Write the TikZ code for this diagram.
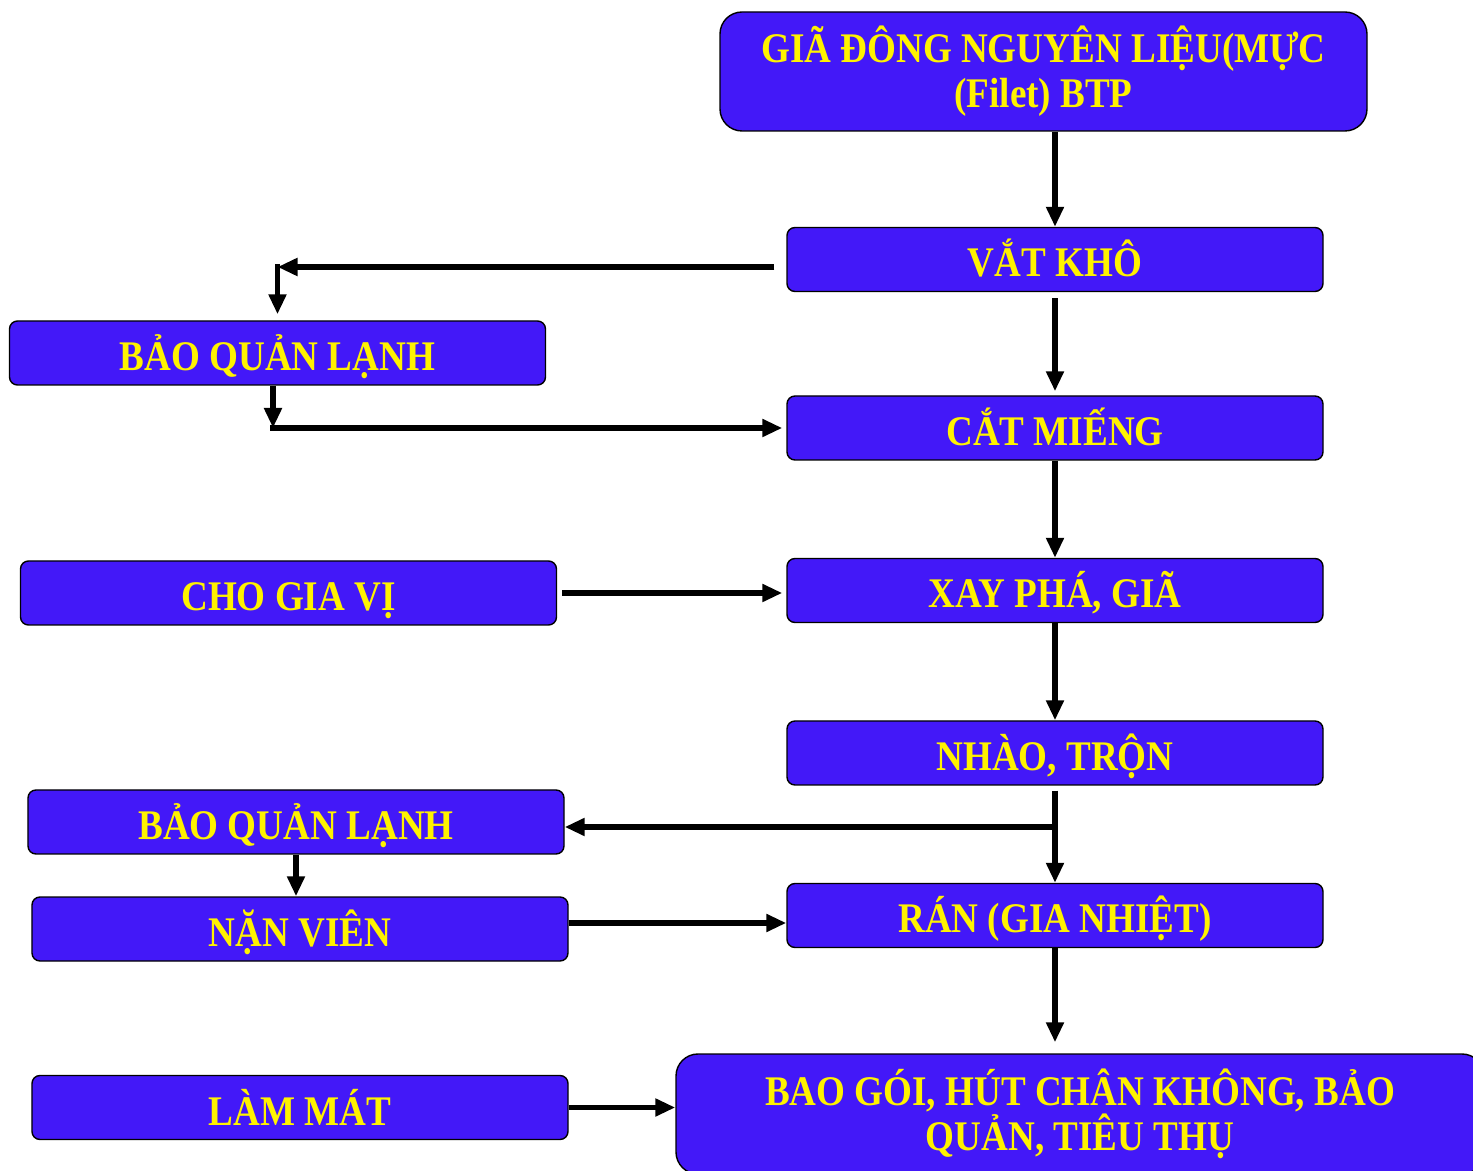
\documentclass[tikz,border=0pt]{standalone}
\usepackage{fontspec}
\setmainfont{Liberation Serif}[FakeStretch=0.88]
\usetikzlibrary{arrows.meta}
\definecolor{boxblue}{RGB}{67,24,248}
\tikzstyle{box} = [rectangle, rounded corners=0.16cm, minimum width=10.72cm, minimum height=1.28cm, text centered, draw=black, line width=0.8pt, fill=boxblue, text=yellow, font=\fontsize{24}{25.5}\selectfont\bfseries]
\tikzstyle{process} = [box, inner sep=0.1cm, text height=0.76cm, text depth=0.06cm]
\tikzstyle{bigbox} = [box, rounded corners=0.44cm, align=center]
\tikzstyle{arrow} = [line width=3.2pt, -{Triangle[length=0.4cm,width=0.34cm]}]

\begin{document}
\begin{tikzpicture}[node distance=3.25cm]
		\useasboundingbox (0,0) rectangle (29.46,-23.42);
		\node (top) [bigbox, minimum width=12.94cm, minimum height=2.38cm] at (20.87,-1.43) {GIÃ ĐÔNG NGUYÊN LIỆU(MỰC\\(Filet) BTP};
		\node (vat) [process, below of = top, xshift = 0.23cm, yshift = -0.51cm] {VẮT KHÔ};
		\node (cat) [process, below of = vat, yshift = -0.12cm] {CẮT MIẾNG};
		\node (xay) [process, below of = cat] {XAY PHÁ, GIÃ};
		\node (nhao) [process, below of = xay] {NHÀO, TRỘN};
		\node (ran) [process, below of = nhao] {RÁN (GIA NHIỆT)};
		\node (bao) [bigbox, below of = ran, xshift = 0.5cm, yshift = -0.72cm, minimum width=16.16cm, minimum height=2.4cm] {BAO GÓI, HÚT CHÂN KHÔNG, BẢO\\QUẢN, TIÊU THỤ};
		\node (bq1) [process, left of = cat, xshift = -12.30cm, yshift = 1.5cm] {BẢO QUẢN LẠNH};
		\node (cho) [process, left of = xay, xshift = -12.08cm, yshift = -0.05cm] {CHO GIA VỊ};
		\node (bq2) [process, left of = nhao, xshift = -11.93cm, yshift = -1.38cm] {BẢO QUẢN LẠNH};
		\node (nan) [process, left of = ran, xshift = -11.85cm, yshift = -0.27cm] {NẶN VIÊN};
		\node (lam) [process, left of = bao, xshift = -12.35cm, yshift = 0.13cm] {LÀM MÁT};
		\coordinate (v1) at ([xshift=-0.24cm, yshift=-0.15cm]vat.west);
		\coordinate (c1) at (bq1.north |- v1);
		\coordinate (c2) at ([xshift=-0.09cm]bq1.south |- cat.west);
		\coordinate (b2) at ([yshift=-0.1cm]bq2.east);
		\coordinate (n1) at ([yshift=0.12cm]nan.east);
		\draw [arrow] (vat.north |- top.south) -- (vat.north);
		\draw [arrow] (v1) -- (c1);
		\draw [arrow] ([yshift=0.06cm]c1) -- ([yshift=0.12cm]bq1.north);
		\draw [arrow] ([xshift=-0.09cm]bq1.south) -- (c2);
		\draw [arrow] ([xshift=-0.06cm]c2) -- ([xshift=-0.08cm]cat.west);
		\draw [arrow] ([yshift=-0.12cm]vat.south) -- ([yshift=0.08cm]cat.north);
		\draw [arrow] (cat) -- (xay);
		\draw [arrow] ([xshift=0.1cm]cho.east) -- ([xshift=-0.08cm]xay.west |- cho.east);
		\draw [arrow] (xay) -- (nhao);
		\draw [arrow] ([yshift=-0.1cm]nhao.south) -- (ran.north);
		\draw [arrow] (b2 -| nhao.south) -- (b2);
		\draw [arrow] (bq2.south) -- (bq2.south |- nan.north);
		\draw [arrow] (n1) -- (ran.west |- n1);
		\draw [arrow] (ran.south) -- ([yshift=0.22cm]bao.north -| ran.south);
		\draw [arrow] (lam.east) -- (bao.west |- lam.east);
	\end{tikzpicture}
\end{document}
